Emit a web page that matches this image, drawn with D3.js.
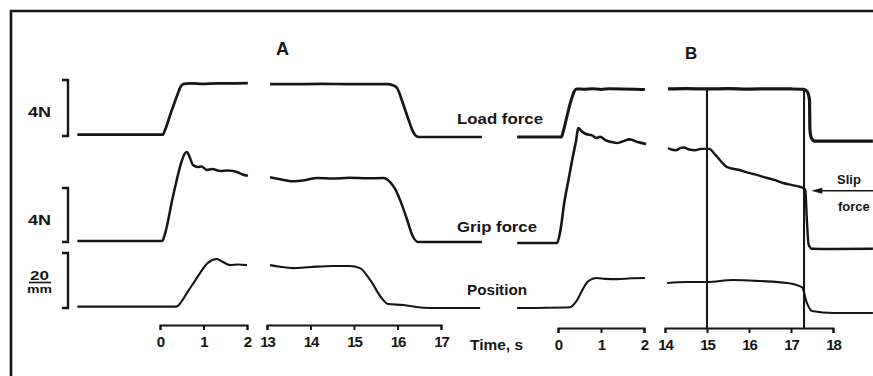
<!DOCTYPE html>
<html>
<head>
<meta charset="utf-8">
<script src="https://cdn.jsdelivr.net/npm/d3@7/dist/d3.min.js"></script>
<style>
  html, body { margin: 0; padding: 0; background: #fff; }
  svg { display: block; }
  text { font-family: "Liberation Sans", Arial, sans-serif; font-weight: bold; fill: #161616; }
</style>
</head>
<body>
<svg id="chart" width="873" height="376"></svg>
<script>
// ---- data ---------------------------------------------------------------
// time segments (s) shown on each broken time axis
const segA1 = [0, 2];
const segA2 = [13, 17];
const segB1 = [0, 2];
const segB2 = [14, 18];
const ticksA1 = [0, 1, 2];
const ticksA2 = [13, 14, 15, 16, 17];
const ticksB1 = [0, 1, 2];
const ticksB2 = [14, 15, 16, 17, 18];

const panelNames = ["A", "B"];
const traceNames = ["Load force", "Grip force", "Position"];
const timeLabel = "Time, s";
const scaleForce = "4N";
const scalePosNum = "20";
const scalePosUnit = "mm";
const slipLabel = ["Slip", "force"];

// traces: [time (s), value]; forces in N, position in mm
const loadA1 = [[-1.9,0.1],[0.07,0.1],[0.1,0.3],[0.25,1.65],[0.4,2.95],[0.48,3.55],[0.55,3.72],[0.7,3.76],[1.0,3.72],[1.3,3.76],[1.7,3.76],[2.02,3.77]];
const loadA2 = [[13.07,3.71],[13.6,3.7],[14.2,3.72],[14.8,3.71],[15.4,3.7],[15.78,3.71],[15.88,3.64],[15.99,3.43],[16.1,2.55],[16.25,1.2],[16.36,0.29],[16.42,0.02],[16.5,-0.07],[17.0,-0.07],[17.94,-0.07]];
const gripA1 = [[-1.9,0.07],[0.05,0.07],[0.1,0.45],[0.3,3.4],[0.5,6.0],[0.56,6.5],[0.62,6.67],[0.68,6.3],[0.76,5.7],[0.87,5.55],[0.95,5.6],[1.08,5.33],[1.2,5.4],[1.38,5.26],[1.55,5.3],[1.77,5.19],[1.9,5.0],[2.02,4.9]];
const gripA2 = [[13.07,4.8],[13.3,4.65],[13.6,4.5],[13.9,4.6],[14.15,4.74],[14.5,4.7],[14.9,4.76],[15.3,4.72],[15.67,4.74],[15.83,4.44],[15.95,3.9],[16.06,3.1],[16.2,1.85],[16.36,0.37],[16.47,0.0],[17.0,0.0],[17.94,0.0]];
const posA1 = [[-1.9,0.5],[0.3,0.5],[0.39,0.6],[0.5,2.5],[0.62,5.5],[0.8,9.8],[0.92,12.7],[1.1,16.4],[1.31,17.8],[1.45,16.7],[1.61,15.6],[1.8,15.8],[2.0,15.6]];
const posA2 = [[13.07,15.6],[13.3,15.0],[13.6,14.5],[14.0,14.9],[14.52,15.3],[14.9,15.3],[15.14,14.5],[15.37,10.2],[15.67,2.9],[15.78,1.45],[16.13,1.1],[16.59,0.1],[16.98,0],[17.9,0]];

const loadB1 = [[-0.95,-0.07],[0.08,-0.07],[0.12,0.3],[0.2,1.3],[0.3,2.5],[0.38,3.2],[0.43,3.36],[0.6,3.34],[0.8,3.38],[1.0,3.33],[1.2,3.37],[1.5,3.36],[1.8,3.34],[2.02,3.32]];
const loadB2 = [[14.07,3.36],[14.5,3.38],[15.0,3.36],[15.5,3.38],[16.0,3.35],[16.5,3.37],[17.0,3.36],[17.3,3.34],[17.38,3.2],[17.44,2.6],[17.45,0.5],[17.48,-0.1],[17.57,-0.36],[18.0,-0.36],[18.95,-0.36]];
const gripB1 = [[-0.95,-0.07],[-0.02,-0.07],[0.05,0.75],[0.15,3.0],[0.25,4.7],[0.35,6.4],[0.42,7.5],[0.47,8.44],[0.55,8.2],[0.65,8.0],[0.79,7.9],[0.9,7.7],[0.98,7.8],[1.1,7.55],[1.25,7.4],[1.37,7.33],[1.5,7.45],[1.67,7.6],[1.85,7.4],[2.05,7.26]];
const gripB2 = [[14.07,6.96],[14.15,6.85],[14.26,6.8],[14.36,6.95],[14.45,7.0],[14.58,6.85],[14.71,6.8],[14.85,6.9],[15.05,6.9],[15.2,6.45],[15.48,5.55],[15.75,5.35],[16.02,5.1],[16.2,4.95],[16.43,4.74],[16.6,4.6],[16.81,4.37],[17.05,4.2],[17.29,4.0],[17.34,3.85],[17.38,1.5],[17.42,-0.2],[17.5,-0.5],[18.0,-0.52],[18.95,-0.5]];
const posB1 = [[-0.95,0],[0.28,0.3],[0.36,1.2],[0.45,3.0],[0.55,6.0],[0.65,8.8],[0.75,10.2],[0.9,10.9],[1.1,10.6],[1.37,10.5],[1.7,10.8],[2.02,10.9]];
const posB2 = [[14.05,9.1],[14.52,9.45],[15.0,9.45],[15.62,10.2],[16.26,9.8],[16.9,9.1],[17.26,7.6],[17.38,1.8],[17.5,-1.1],[18.0,-1.8],[18.95,-1.8]];

// event markers in panel B (s) and the grip force at slip (N)
const markersB = [15, 17.31];
const slipTime = 17.34;
const slipForce = 3.8;

// ---- drawing ------------------------------------------------------------
const ink = "#161616";
const svg = d3.select("#chart");

// page frame
svg.append("path")
  .attr("d", "M11,376V11H873")
  .attr("fill", "none").attr("stroke", ink).attr("stroke-width", 2.6);

// time scales, one per axis segment
const xA1 = d3.scaleLinear().domain(segA1).range([160, 247]);
const xA2 = d3.scaleLinear().domain(segA2).range([267, 441]);
const xB1 = d3.scaleLinear().domain(segB1).range([558, 644]);
const xB2 = d3.scaleLinear().domain(segB2).range([665, 833]);

// value scales, one per trace row
const yLoad = d3.scaleLinear().domain([0, 4]).range([136, 80]);
const yGrip = d3.scaleLinear().domain([0, 4]).range([242, 188]);
const yPos  = d3.scaleLinear().domain([0, 20]).range([308, 253]);

const traces = [
  { d: loadA1, x: xA1, y: yLoad, w: 2.7 },
  { d: loadA2, x: xA2, y: yLoad, w: 2.7 },
  { d: gripA1, x: xA1, y: yGrip, w: 2.5 },
  { d: gripA2, x: xA2, y: yGrip, w: 2.5 },
  { d: posA1,  x: xA1, y: yPos,  w: 2.1 },
  { d: posA2,  x: xA2, y: yPos,  w: 2.1 },
  { d: loadB1, x: xB1, y: yLoad, w: 3.0 },
  { d: loadB2, x: xB2, y: yLoad, w: 3.2 },
  { d: gripB1, x: xB1, y: yGrip, w: 2.6 },
  { d: gripB2, x: xB2, y: yGrip, w: 2.4 },
  { d: posB1,  x: xB1, y: yPos,  w: 2.1 },
  { d: posB2,  x: xB2, y: yPos,  w: 2.1 }
];

const gTraces = svg.append("g").attr("fill", "none").attr("stroke", ink)
  .attr("stroke-linejoin", "round").attr("stroke-linecap", "butt");
traces.forEach(t => {
  const line = d3.line().x(p => t.x(p[0])).y(p => t.y(p[1])).curve(d3.curveMonotoneX);
  gTraces.append("path").attr("d", line(t.d)).attr("stroke-width", t.w);
});

// panel B event markers
markersB.forEach(m => {
  svg.append("line")
    .attr("x1", xB2(m)).attr("x2", xB2(m))
    .attr("y1", yLoad(3.36)).attr("y2", 328)
    .attr("stroke", ink).attr("stroke-width", 2.1);
});

// broken time axes
const axes = [
  { x: xA1, ticks: ticksA1, y: 325 },
  { x: xA2, ticks: ticksA2, y: 325 },
  { x: xB1, ticks: ticksB1, y: 328 },
  { x: xB2, ticks: ticksB2, y: 328 }
];
axes.forEach(a => {
  const g = svg.append("g").attr("transform", `translate(0,${a.y})`)
    .call(d3.axisBottom(a.x).tickValues(a.ticks).tickFormat(d3.format("d"))
      .tickSize(5).tickSizeOuter(5).tickPadding(6));
  g.select(".domain").attr("stroke", ink).attr("stroke-width", 2);
  g.selectAll(".tick line").attr("stroke", ink).attr("stroke-width", 2);
  g.selectAll(".tick text").attr("font-size", 15).attr("fill", ink)
    .attr("letter-spacing", -1)
    .attr("font-family", "'Liberation Sans', Arial, sans-serif").attr("font-weight", "bold");
});

// scale brackets on the left
function bracket(y0, y1) {
  svg.append("path")
    .attr("d", `M62,${y0}H68V${y1}H62`)
    .attr("fill", "none").attr("stroke", ink).attr("stroke-width", 2.4);
}
bracket(yLoad(4), yLoad(0));
bracket(yGrip(4), yGrip(0));
bracket(yPos(20), yPos(0));

function label(x, y, size, width, str) {
  const t = svg.append("text").attr("x", x).attr("y", y).attr("font-size", size).text(str);
  if (width) t.attr("textLength", width).attr("lengthAdjust", "spacingAndGlyphs");
  return t;
}

label(28, 117, 14, 23, scaleForce);
label(28, 225, 14, 23, scaleForce);
label(30, 280, 12, 19, scalePosNum);
svg.append("line").attr("x1", 29).attr("x2", 51).attr("y1", 282.5).attr("y2", 282.5)
  .attr("stroke", ink).attr("stroke-width", 1.6);
label(27, 293, 10, 25, scalePosUnit);

// panel letters
label(276, 55, 18, null, panelNames[0]);
label(685, 59, 17, null, panelNames[1]);

// trace names
label(457, 124, 15, 86, traceNames[0]);
label(457, 232, 15, 80, traceNames[1]);
label(467, 295, 15, 60, traceNames[2]);
label(470, 350, 15, 53, timeLabel);

// slip force annotation
const slipY = yGrip(slipForce);
const tipX = xB2(slipTime) + 6;
svg.append("line").attr("x1", tipX + 6).attr("x2", 873).attr("y1", slipY).attr("y2", slipY)
  .attr("stroke", ink).attr("stroke-width", 1.6);
svg.append("path")
  .attr("d", `M${tipX},${slipY}L${tipX + 11},${slipY - 3}L${tipX + 11},${slipY + 3}Z`)
  .attr("fill", ink);
label(837, 184, 13, null, slipLabel[0]);
label(838, 211, 13, null, slipLabel[1]);
</script>
</body>
</html>
